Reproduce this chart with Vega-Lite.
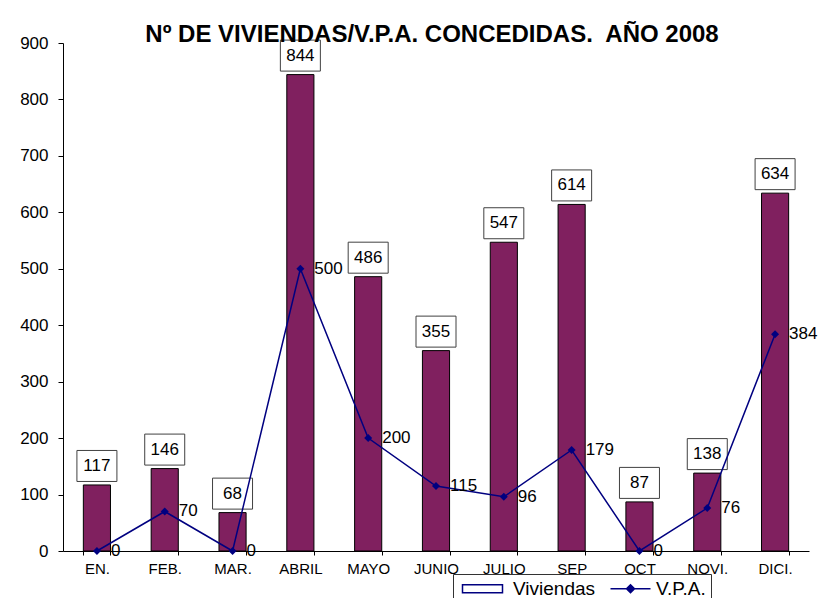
{
  "$schema": "https://vega.github.io/schema/vega-lite/v6.json",
  "autosize": {"type": "none"},
  "width": 746,
  "height": 508,
  "padding": {"left": 63, "top": 43, "right": 23, "bottom": 47},
  "background": "white",
  "config": {
    "font": "Liberation Sans",
    "view": {"stroke": null},
    "axis": {"domainColor": "black", "tickColor": "black", "labelColor": "black", "grid": false, "title": null}
  },
  "title": {
    "text": "Nº DE VIVIENDAS/V.P.A. CONCEDIDAS.\u00a0 AÑO 2008",
    "font": "Liberation Sans",
    "fontSize": 24,
    "fontWeight": "bold",
    "color": "black",
    "anchor": "middle",
    "dx": -4,
    "offset": -13
  },
  "data": {
    "values": [
      {"mes": "EN.", "viviendas": 117, "vpa": 0},
      {"mes": "FEB.", "viviendas": 146, "vpa": 70},
      {"mes": "MAR.", "viviendas": 68, "vpa": 0},
      {"mes": "ABRIL", "viviendas": 844, "vpa": 500},
      {"mes": "MAYO", "viviendas": 486, "vpa": 200},
      {"mes": "JUNIO", "viviendas": 355, "vpa": 115},
      {"mes": "JULIO", "viviendas": 547, "vpa": 96},
      {"mes": "SEP", "viviendas": 614, "vpa": 179},
      {"mes": "OCT", "viviendas": 87, "vpa": 0},
      {"mes": "NOVI.", "viviendas": 138, "vpa": 76},
      {"mes": "DICI.", "viviendas": 634, "vpa": 384}
    ]
  },
  "encoding": {
    "x": {
      "field": "mes",
      "type": "nominal",
      "sort": null,
      "scale": {"paddingInner": 0.6, "paddingOuter": 0.3},
      "axis": {"labelAngle": 0, "labelFontSize": 15, "tickBand": "extent", "tickSize": 4, "labelPadding": 6, "domainWidth": 1}
    }
  },
  "layer": [
    {
      "mark": {"type": "bar", "color": "#80205F", "stroke": "black", "strokeWidth": 1},
      "encoding": {
        "y": {
          "field": "viviendas",
          "type": "quantitative",
          "scale": {"domain": [0, 900], "nice": false},
          "axis": {"values": [0, 100, 200, 300, 400, 500, 600, 700, 800, 900], "labelFontSize": 17, "tickSize": 5, "labelPadding": 10}
        }
      }
    },
    {
      "mark": {"type": "point", "shape": "M-1,-0.775L1,-0.775L1,0.775L-1,0.775Z", "size": 1600, "fill": "white", "stroke": "#404040", "strokeWidth": 1, "opacity": 1, "fillOpacity": 1, "filled": false, "yOffset": -19},
      "encoding": {
        "y": {"field": "viviendas", "type": "quantitative"}
      }
    },
    {
      "mark": {"type": "text", "fontSize": 17, "color": "black", "align": "center", "baseline": "middle", "dy": -19},
      "encoding": {
        "y": {"field": "viviendas", "type": "quantitative"},
        "text": {"field": "viviendas", "type": "quantitative"}
      }
    },
    {
      "mark": {"type": "line", "color": "#000080", "strokeWidth": 1.5, "point": {"filled": true, "shape": "diamond", "size": 64, "color": "#000080", "opacity": 1}},
      "encoding": {
        "y": {"field": "vpa", "type": "quantitative"}
      }
    },
    {
      "mark": {"type": "text", "fontSize": 17, "color": "black", "align": "left", "baseline": "middle", "dx": 14},
      "encoding": {
        "y": {"field": "vpa", "type": "quantitative"},
        "text": {"field": "vpa", "type": "quantitative"}
      }
    },
    {
      "transform": [{"filter": "false"}],
      "mark": {"type": "point", "filled": true, "fill": "white", "stroke": "#000080", "strokeWidth": 1.5, "opacity": 1, "size": 100},
      "encoding": {
        "y": {"field": "vpa", "type": "quantitative"},
        "shape": {
          "datum": "Viviendas",
          "type": "nominal",
          "scale": {
            "domain": ["Viviendas", "V.P.A."],
            "range": ["M-1,-0.8L7,-0.8L7,0.8L-1,0.8Z", "M0,0L8,0M3.2,0L4,-0.8L4.8,0L4,0.8ZM3.5,0L4,-0.5L4.5,0L4,0.5ZM3.8,0L4,-0.2L4.2,0L4,0.2Z"]
          },
          "legend": {
            "orient": "none",
            "legendX": 390,
            "legendY": 531,
            "direction": "horizontal",
            "title": null,
            "labelFont": "Liberation Sans",
            "labelFontSize": 19,
            "labelColor": "black",
            "labelOffset": 36,
            "columnPadding": 5,
            "padding": 5,
            "strokeColor": "#333333",
            "fillColor": "white",
            "symbolSize": 100,
            "symbolStrokeWidth": 1.5,
            "encode": {
              "symbols": {
                "update": {
                  "fill": {"signal": "datum.value === 'Viviendas' ? 'white' : '#000080'"},
                  "stroke": {"signal": "datum.value === 'Viviendas' ? 'black' : '#000080'"},
                  "strokeWidth": {"signal": "datum.value === 'Viviendas' ? 1 : 1.5"}
                }
              }
            }
          }
        }
      }
    }
  ]
}
